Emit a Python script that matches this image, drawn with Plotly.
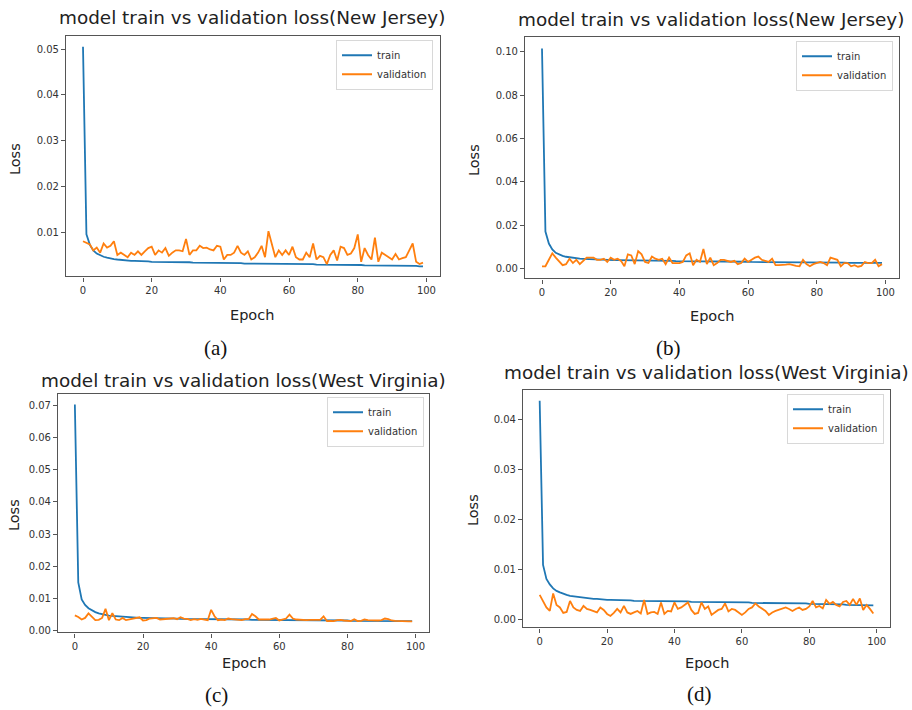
import plotly.graph_objects as go

epochs = list(range(100))

# ---------------- data ----------------
train_a = [0.0505, 0.0095, 0.0072, 0.0060, 0.0053, 0.0049, 0.0046, 0.0044, 0.0042, 0.0041,
           0.0040, 0.0039, 0.0038, 0.0038, 0.0037, 0.0037, 0.0037, 0.0036, 0.0036, 0.0036,
           0.0035, 0.0035, 0.0035, 0.0035, 0.0035, 0.0034, 0.0034, 0.0034, 0.0034, 0.0034,
           0.0034, 0.0034, 0.0033, 0.0033, 0.0033, 0.0033, 0.0033, 0.0032, 0.0033, 0.0033,
           0.0033, 0.0033, 0.0032, 0.0032, 0.0032, 0.0032, 0.0032, 0.0031, 0.0031, 0.0031,
           0.0031, 0.0031, 0.0031, 0.0031, 0.0031, 0.0031, 0.0031, 0.0031, 0.0030, 0.0030,
           0.0030, 0.0030, 0.0030, 0.0030, 0.0030, 0.0030, 0.0030, 0.0030, 0.0029, 0.0029,
           0.0029, 0.0029, 0.0029, 0.0029, 0.0029, 0.0029, 0.0028, 0.0028, 0.0028, 0.0028,
           0.0028, 0.0028, 0.0027, 0.0027, 0.0027, 0.0027, 0.0027, 0.0027, 0.0027, 0.0026,
           0.0026, 0.0026, 0.0026, 0.0026, 0.0026, 0.0026, 0.0026, 0.0026, 0.0025, 0.0025]
val_a = [0.0080, 0.0077, 0.0073, 0.0060, 0.0066, 0.0055, 0.0075, 0.0066, 0.0070, 0.0080,
         0.0050, 0.0055, 0.0050, 0.0045, 0.0055, 0.0050, 0.0058, 0.0050, 0.0058, 0.0065,
         0.0068, 0.0050, 0.0060, 0.0055, 0.0065, 0.0048, 0.0055, 0.0060, 0.0060, 0.0058,
         0.0085, 0.0050, 0.0060, 0.0060, 0.0070, 0.0065, 0.0066, 0.0062, 0.0060, 0.0070,
         0.0068, 0.0040, 0.0050, 0.0050, 0.0055, 0.0070, 0.0055, 0.0050, 0.0058, 0.0040,
         0.0045, 0.0055, 0.0070, 0.0045, 0.0102, 0.0070, 0.0045, 0.0060, 0.0050, 0.0060,
         0.0050, 0.0068, 0.0045, 0.0040, 0.0040, 0.0055, 0.0045, 0.0075, 0.0040, 0.0048,
         0.0045, 0.0030, 0.0050, 0.0060, 0.0038, 0.0068, 0.0065, 0.0050, 0.0053, 0.0065,
         0.0095, 0.0035, 0.0065, 0.0050, 0.0040, 0.0088, 0.0035, 0.0055, 0.0050, 0.0045,
         0.0040, 0.0052, 0.0040, 0.0043, 0.0045, 0.0060, 0.0075, 0.0035, 0.0030, 0.0033]

train_b = [0.1015, 0.0170, 0.0115, 0.0088, 0.0072, 0.0064, 0.0058, 0.0054, 0.0051, 0.0048,
           0.0046, 0.0045, 0.0044, 0.0043, 0.0042, 0.0041, 0.0041, 0.0040, 0.0040, 0.0039,
           0.0039, 0.0038, 0.0038, 0.0038, 0.0037, 0.0037, 0.0037, 0.0037, 0.0036, 0.0036,
           0.0036, 0.0036, 0.0036, 0.0035, 0.0035, 0.0035, 0.0035, 0.0035, 0.0035, 0.0034,
           0.0034, 0.0034, 0.0034, 0.0034, 0.0033, 0.0033, 0.0033, 0.0033, 0.0033, 0.0032,
           0.0032, 0.0032, 0.0032, 0.0032, 0.0032, 0.0031, 0.0031, 0.0031, 0.0031, 0.0031,
           0.0031, 0.0030, 0.0030, 0.0030, 0.0030, 0.0030, 0.0030, 0.0029, 0.0029, 0.0029,
           0.0029, 0.0029, 0.0029, 0.0029, 0.0028, 0.0028, 0.0028, 0.0028, 0.0028, 0.0028,
           0.0028, 0.0027, 0.0027, 0.0027, 0.0027, 0.0027, 0.0027, 0.0027, 0.0027, 0.0026,
           0.0026, 0.0026, 0.0026, 0.0026, 0.0026, 0.0026, 0.0026, 0.0026, 0.0026, 0.0026]
val_b = [0.0010, 0.0010, 0.0040, 0.0070, 0.0050, 0.0030, 0.0015, 0.0020, 0.0045, 0.0025,
         0.0040, 0.0020, 0.0035, 0.0050, 0.0050, 0.0050, 0.0040, 0.0040, 0.0045, 0.0030,
         0.0050, 0.0040, 0.0045, 0.0035, 0.0010, 0.0065, 0.0060, 0.0020, 0.0080, 0.0065,
         0.0030, 0.0025, 0.0055, 0.0045, 0.0040, 0.0045, 0.0020, 0.0050, 0.0025, 0.0025,
         0.0025, 0.0030, 0.0060, 0.0070, 0.0015, 0.0040, 0.0030, 0.0090, 0.0020, 0.0050,
         0.0015, 0.0025, 0.0040, 0.0040, 0.0035, 0.0030, 0.0035, 0.0020, 0.0025, 0.0045,
         0.0030, 0.0040, 0.0050, 0.0055, 0.0040, 0.0035, 0.0030, 0.0045, 0.0015, 0.0015,
         0.0015, 0.0018, 0.0020, 0.0015, 0.0012, 0.0010, 0.0040, 0.0020, 0.0010, 0.0020,
         0.0025, 0.0030, 0.0025, 0.0015, 0.0050, 0.0045, 0.0040, 0.0010, 0.0025, 0.0025,
         0.0010, 0.0015, 0.0008, 0.0012, 0.0030, 0.0025, 0.0025, 0.0040, 0.0010, 0.0020]

train_c = [0.0702, 0.0150, 0.0097, 0.0080, 0.0070, 0.0063, 0.0058, 0.0054, 0.0051, 0.0049,
           0.0047, 0.0046, 0.0045, 0.0044, 0.0043, 0.0042, 0.0042, 0.0041, 0.0041, 0.0040,
           0.0040, 0.0040, 0.0039, 0.0039, 0.0039, 0.0039, 0.0038, 0.0038, 0.0038, 0.0038,
           0.0038, 0.0037, 0.0037, 0.0037, 0.0037, 0.0037, 0.0037, 0.0036, 0.0036, 0.0036,
           0.0036, 0.0036, 0.0036, 0.0036, 0.0035, 0.0035, 0.0035, 0.0035, 0.0035, 0.0035,
           0.0035, 0.0035, 0.0034, 0.0034, 0.0034, 0.0034, 0.0034, 0.0034, 0.0034, 0.0034,
           0.0034, 0.0033, 0.0033, 0.0033, 0.0033, 0.0033, 0.0033, 0.0033, 0.0033, 0.0033,
           0.0032, 0.0032, 0.0032, 0.0032, 0.0032, 0.0032, 0.0032, 0.0032, 0.0032, 0.0032,
           0.0032, 0.0031, 0.0031, 0.0031, 0.0031, 0.0031, 0.0031, 0.0031, 0.0031, 0.0031,
           0.0031, 0.0031, 0.0030, 0.0030, 0.0030, 0.0030, 0.0030, 0.0030, 0.0030, 0.0030]
val_c = [0.0048, 0.0043, 0.0035, 0.0040, 0.0054, 0.0042, 0.0033, 0.0034, 0.0040, 0.0068,
         0.0033, 0.0055, 0.0035, 0.0033, 0.0040, 0.0033, 0.0035, 0.0038, 0.0040, 0.0042,
         0.0032, 0.0033, 0.0038, 0.0040, 0.0040, 0.0035, 0.0036, 0.0038, 0.0037, 0.0039,
         0.0036, 0.0042, 0.0038, 0.0037, 0.0033, 0.0036, 0.0034, 0.0037, 0.0035, 0.0033,
         0.0065, 0.0045, 0.0033, 0.0035, 0.0033, 0.0038, 0.0036, 0.0035, 0.0036, 0.0033,
         0.0036, 0.0036, 0.0052, 0.0045, 0.0035, 0.0034, 0.0035, 0.0035, 0.0038, 0.0040,
         0.0032, 0.0035, 0.0038, 0.0050, 0.0038, 0.0035, 0.0034, 0.0034, 0.0033, 0.0034,
         0.0034, 0.0033, 0.0034, 0.0045, 0.0030, 0.0031, 0.0030, 0.0033, 0.0034, 0.0032,
         0.0031, 0.0030, 0.0036, 0.0030, 0.0031, 0.0035, 0.0033, 0.0032, 0.0031, 0.0032,
         0.0033, 0.0038, 0.0036, 0.0032, 0.0031, 0.0030, 0.0031, 0.0028, 0.0029, 0.0029]

train_d = [0.0438, 0.0110, 0.0082, 0.0071, 0.0063, 0.0058, 0.0055, 0.0052, 0.0050, 0.0048,
           0.0047, 0.0046, 0.0045, 0.0044, 0.0043, 0.0043, 0.0042, 0.0042, 0.0041, 0.0041,
           0.0040, 0.0040, 0.0040, 0.0039, 0.0039, 0.0039, 0.0039, 0.0039, 0.0038, 0.0038,
           0.0038, 0.0038, 0.0038, 0.0038, 0.0038, 0.0037, 0.0037, 0.0037, 0.0037, 0.0037,
           0.0037, 0.0037, 0.0037, 0.0037, 0.0037, 0.0036, 0.0036, 0.0036, 0.0036, 0.0036,
           0.0036, 0.0036, 0.0036, 0.0036, 0.0035, 0.0035, 0.0035, 0.0035, 0.0035, 0.0035,
           0.0035, 0.0035, 0.0035, 0.0034, 0.0034, 0.0034, 0.0034, 0.0034, 0.0034, 0.0034,
           0.0034, 0.0034, 0.0033, 0.0033, 0.0033, 0.0033, 0.0033, 0.0033, 0.0033, 0.0033,
           0.0032, 0.0032, 0.0032, 0.0032, 0.0032, 0.0032, 0.0031, 0.0031, 0.0031, 0.0031,
           0.0031, 0.0030, 0.0030, 0.0030, 0.0030, 0.0030, 0.0029, 0.0029, 0.0029, 0.0029]
val_d = [0.0050, 0.0038, 0.0025, 0.0018, 0.0053, 0.0030, 0.0025, 0.0014, 0.0016, 0.0038,
         0.0025, 0.0020, 0.0018, 0.0028, 0.0022, 0.0020, 0.0018, 0.0015, 0.0025, 0.0020,
         0.0012, 0.0008, 0.0014, 0.0022, 0.0015, 0.0028, 0.0015, 0.0012, 0.0015, 0.0018,
         0.0013, 0.0040, 0.0012, 0.0015, 0.0016, 0.0012, 0.0035, 0.0012, 0.0018, 0.0017,
         0.0035, 0.0022, 0.0025, 0.0030, 0.0035, 0.0020, 0.0012, 0.0014, 0.0035, 0.0022,
         0.0027, 0.0010, 0.0015, 0.0020, 0.0022, 0.0033, 0.0017, 0.0022, 0.0020, 0.0015,
         0.0010, 0.0015, 0.0022, 0.0025, 0.0033, 0.0027, 0.0022, 0.0018, 0.0010, 0.0015,
         0.0018, 0.0020, 0.0022, 0.0025, 0.0022, 0.0018, 0.0022, 0.0025, 0.0020, 0.0022,
         0.0027, 0.0038, 0.0025, 0.0028, 0.0023, 0.0040, 0.0032, 0.0036, 0.0030, 0.0027,
         0.0036, 0.0038, 0.0030, 0.0042, 0.0030, 0.0043, 0.0020, 0.0030, 0.0022, 0.0013]

x_ticks = [0, 20, 40, 60, 80, 100]
y_ticks_a = [0.01, 0.02, 0.03, 0.04, 0.05]
y_ticks_b = [0.00, 0.02, 0.04, 0.06, 0.08, 0.10]
y_ticks_c = [0.00, 0.01, 0.02, 0.03, 0.04, 0.05, 0.06, 0.07]
y_ticks_d = [0.00, 0.01, 0.02, 0.03, 0.04]

title_nj = "model train vs validation loss(New Jersey)"
title_wv = "model train vs validation loss(West Virginia)"
captions = ["(a)", "(b)", "(c)", "(d)"]

# ---------------- layout ----------------
W, H = 912, 710
def px(x):
    return x / W
def py(y):
    return 1 - y / H

BLUE = "#1f77b4"
ORANGE = "#ff7f0e"
SANS = "DejaVu Sans"

panels = [
    dict(train=train_a, val=val_a, yt=y_ticks_a, title=title_nj, cap=captions[0],
         box=(66, 36, 440, 278), yr=[0.0003, 0.0529],
         title_xy=(252, 18), epoch_xy=(252, 317), loss_xy=(15, 160), cap_xy=(215, 350), leg=(433, 40)),
    dict(train=train_b, val=val_b, yt=y_ticks_b, title=title_nj, cap=captions[1],
         box=(525, 37, 899, 280), yr=[-0.0046, 0.1069],
         title_xy=(711, 20), epoch_xy=(712, 318), loss_xy=(474, 161), cap_xy=(668, 350), leg=(893, 41)),
    dict(train=train_c, val=val_c, yt=y_ticks_c, title=title_wv, cap=captions[2],
         box=(58, 396, 429, 636), yr=[-0.0005, 0.0735],
         title_xy=(243, 383), epoch_xy=(244, 667), loss_xy=(14, 518), cap_xy=(216, 699), leg=(424, 399)),
    dict(train=train_d, val=val_d, yt=y_ticks_d, title=title_wv, cap=captions[3],
         box=(523, 392, 890, 631), yr=[-0.0015, 0.0460],
         title_xy=(706, 375), epoch_xy=(707, 667), loss_xy=(473, 513), cap_xy=(699, 698), leg=(884, 396)),
]

fig = go.Figure()
layout = dict(width=W, height=H, margin=dict(l=0, r=0, t=0, b=0),
              paper_bgcolor="white", plot_bgcolor="white", showlegend=True)
annotations = []

for i, p in enumerate(panels, start=1):
    sfx = "" if i == 1 else str(i)
    leg = "legend" if i == 1 else f"legend{i}"
    fig.add_trace(go.Scatter(x=epochs, y=p["train"], mode="lines", name="train",
                             line=dict(color=BLUE, width=1.8),
                             xaxis="x" + sfx, yaxis="y" + sfx, legend=leg))
    fig.add_trace(go.Scatter(x=epochs, y=p["val"], mode="lines", name="validation",
                             line=dict(color=ORANGE, width=1.8),
                             xaxis="x" + sfx, yaxis="y" + sfx, legend=leg))
    x0, y0, x1, y1 = p["box"]
    axcommon = dict(showline=True, mirror=True, linecolor="#555", linewidth=1.2,
                    ticks="outside", ticklen=4, tickcolor="#555", tickwidth=1,
                    showgrid=False, zeroline=False,
                    tickfont=dict(family=SANS, size=10, color="#333"))
    layout["xaxis" + sfx] = dict(domain=[px(x0), px(x1)], range=[-4.95, 103.95],
                                 anchor="y" + sfx, tickvals=x_ticks, **axcommon)
    layout["yaxis" + sfx] = dict(domain=[py(y1), py(y0)], range=p["yr"],
                                 anchor="x" + sfx, tickvals=p["yt"], tickformat=".2f", **axcommon)
    lx, ly = p["leg"]
    layout[leg] = dict(x=px(lx), y=py(ly), xanchor="right", yanchor="top",
                       bgcolor="rgba(255,255,255,0.9)", bordercolor="#d8d8d8", borderwidth=1,
                       font=dict(family=SANS, size=10, color="#333"),
                       tracegroupgap=0, itemwidth=30)
    tx, ty = p["title_xy"]
    annotations.append(dict(text=p["title"], x=px(tx), y=py(ty), xref="paper", yref="paper",
                            xanchor="center", yanchor="middle", showarrow=False,
                            font=dict(family=SANS, size=18.4, color="#222")))
    ex, ey = p["epoch_xy"]
    annotations.append(dict(text="Epoch", x=px(ex), y=py(ey), xref="paper", yref="paper",
                            xanchor="center", yanchor="middle", showarrow=False,
                            font=dict(family=SANS, size=14.5, color="#222")))
    lx2, ly2 = p["loss_xy"]
    annotations.append(dict(text="Loss", x=px(lx2), y=py(ly2), xref="paper", yref="paper",
                            xanchor="center", yanchor="middle", showarrow=False, textangle=-90,
                            font=dict(family=SANS, size=14.5, color="#222")))
    cx, cy = p["cap_xy"]
    annotations.append(dict(text=p["cap"], x=px(cx), y=py(cy), xref="paper", yref="paper",
                            xanchor="center", yanchor="middle", showarrow=False,
                            font=dict(family="Liberation Serif", size=21, color="#111")))

layout["annotations"] = annotations
fig.update_layout(**layout)
fig.write_html("out.html", config={"displayModeBar": False},
               post_script="document.body.style.margin='0';document.body.style.padding='0';"
                           "document.body.style.overflow='hidden';")
